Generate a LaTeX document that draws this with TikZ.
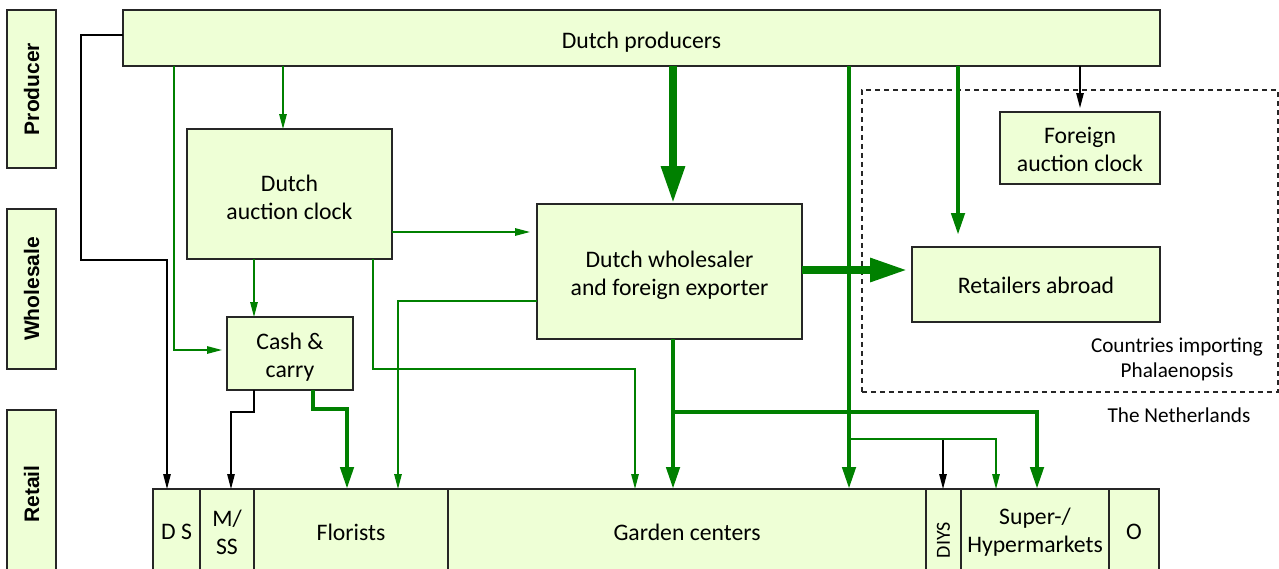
\documentclass[tikz,border=0pt]{standalone}
\usepackage{fontspec}
\setmainfont{Carlito}
\newfontfamily\labelfont{Liberation Sans}
\usetikzlibrary{arrows.meta}
\definecolor{boxfill}{RGB}{238,255,214}
\definecolor{flowgreen}{RGB}{0,128,0}
\definecolor{boxline}{RGB}{38,38,38}
\begin{document}
\begin{tikzpicture}[x=1pt,y=-1pt,
  box/.style={draw=boxline, line width=1.3pt, fill=boxfill, inner sep=0pt, outer sep=0pt,
    align=center, anchor=north west, font=\fontsize{23.7}{28}\selectfont},
  boxtext/.style={align=center, inner sep=0pt, font=\fontsize{23.7}{28}\selectfont},
  cell/.style={box, minimum height=86pt},
  side/.style={draw=boxline, line width=1.3pt, fill=boxfill, inner sep=0pt, rotate=90,
    minimum height=49pt, font=\labelfont\bfseries\fontsize{21}{25}\selectfont},
  smalltext/.style={align=center, inner sep=0pt, font=\fontsize{21.2}{25}\selectfont},
  dashbox/.style={draw=black!85, line width=1.5pt, dash pattern=on 5pt off 4pt, inner sep=0pt, anchor=north west},
  gthinarrow/.style={draw=flowgreen, line width=1.4pt, -{Triangle[length=15pt,width=7.5pt]}},
  bthinarrow/.style={draw=black, line width=1.3pt, -{Triangle[length=15pt,width=7.5pt]}},
  gthickarrow/.style={draw=flowgreen, line width=4.5pt, -{Triangle[length=22pt,width=13pt]}},
  gheavyarrow/.style={draw=flowgreen, line width=8.5pt, -{Triangle[length=38pt,width=22pt]}},
]
\useasboundingbox (0,0) rectangle (1279,568);

% side labels
\node[side, minimum width=158pt] (lprod) at (31.5,89) {Producer};
\node[side, minimum width=160pt] (lwhole) at (31.5,289) {Wholesale};
\node[side, minimum width=168pt] (lretail) at (31.5,494) {Retail};

% dashed region
\node[dashbox, minimum width=416pt, minimum height=302pt] (imp) at (861,89) {};
\node[smalltext] (cip) at (1177,359) {Countries importing\\Phalaenopsis};
\node[smalltext] (nl) at (1179,415) {The Netherlands};

% main boxes
\node[box, minimum width=1037pt, minimum height=56pt,
  label={[boxtext, yshift=-4pt]center:{Dutch producers}}] (prod) at (123,10) {};
\node[box, minimum width=205pt, minimum height=130pt,
  label={[boxtext, yshift=-3pt]center:{Dutch\\auction clock}}] (auc) at (187,129) {};
\node[box, minimum width=126pt, minimum height=73pt,
  label={[boxtext, yshift=-3.5pt]center:{Cash \&\\carry}}] (cc) at (227,317) {};
\node[box, minimum width=265pt, minimum height=135pt,
  label={[boxtext, yshift=-3.5pt]center:{Dutch wholesaler\\and foreign exporter}}] (whs) at (537,204) {};
\node[box, minimum width=160pt, minimum height=72pt,
  label={[boxtext, yshift=-1pt]center:{Foreign\\auction clock}}] (fac) at (1000,112) {};
\node[box, minimum width=248pt, minimum height=75pt,
  label={[boxtext, yshift=-1pt]center:{Retailers abroad}}] (ra) at (912,247) {};

% retail row
\node[cell, minimum width=47pt] (ds) at (153,489) {D S};
\node[cell, minimum width=54pt] (mss) at (200,489) {M/\\SS};
\node[cell, minimum width=194pt] (flor) at (254,489) {Florists};
\node[cell, minimum width=478pt] (garden) at (448,489) {Garden centers};
\node[cell, minimum width=35pt] (diys) at (926,489) {};
\node[rotate=90, inner sep=0pt, font=\fontsize{20}{24}\selectfont] (diyst) at (943.5,540) {DIYS};
\node[cell, minimum width=148pt] (super) at (961,489) {Super-/\\Hypermarkets};
\node[cell, minimum width=50pt] (other) at (1109,489) {O};

% junction coordinates
\coordinate (j1) at (673,412);
\coordinate (j2) at (849,439);
\coordinate (j3) at (943,439);

% black connectors
\draw[bthinarrow] (prod.west |- 0,35) -| (81,260) -| (167,0 |- ds.north);
\draw[bthinarrow] (254,0 |- cc.south) |- (231,412) -- (231,0 |- mss.north);
\draw[bthinarrow] (j3) -- (943,0 |- diys.north);
\draw[bthinarrow, shorten >=4pt] (1080,0 |- prod.south) -- (1080,0 |- fac.north);

% thin green connectors
\draw[gthinarrow, shorten >=5pt] (174,0 |- prod.south) |- (cc.west |- 0,350);
\draw[gthinarrow] (283,0 |- prod.south) -- (283,0 |- auc.north);
\draw[gthinarrow] (254,0 |- auc.south) -- (254,0 |- cc.north);
\draw[gthinarrow, shorten >=7pt] (auc.east |- 0,232) -- (whs.west |- 0,232);
\draw[gthinarrow] (373,0 |- auc.south) |- (635,369) -- (635,0 |- garden.north);
\draw[gthinarrow] (whs.west |- 0,301) -| (398,0 |- flor.north);
\draw[gthinarrow] (j2) -| (996,0 |- super.north);

% thick green connectors
\draw[gthickarrow] (313,0 |- cc.south) |- (347,409) -- (347,0 |- flor.north);
\draw[gthickarrow] (673,0 |- whs.south) -- (673,0 |- garden.north);
\draw[gthickarrow] (j1) -| (1037,0 |- super.north);
\draw[gthickarrow] (849,0 |- prod.south) -- (849,0 |- garden.north);
\draw[gthickarrow, shorten >=12pt] (958,0 |- prod.south) -- (958,0 |- ra.north);

% heavy green connectors
\draw[gheavyarrow] (673,0 |- prod.south) -- (673,0 |- whs.north);
\draw[gheavyarrow, shorten >=4pt] (whs.east |- 0,270) -- (ra.west |- 0,270);
\end{tikzpicture}
\end{document}
